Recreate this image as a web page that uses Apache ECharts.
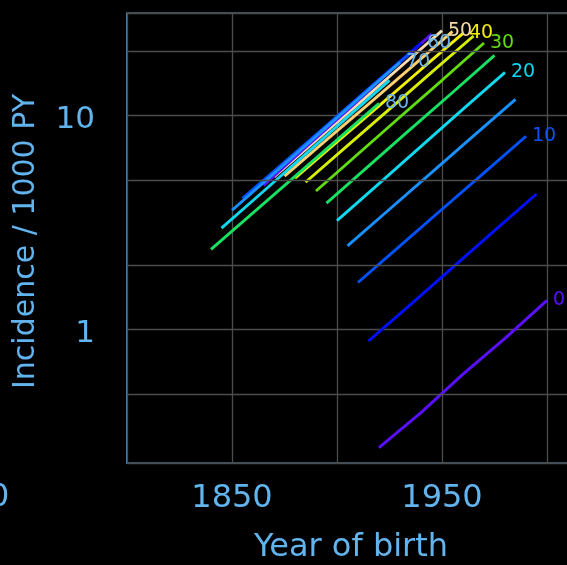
<!DOCTYPE html>
<html>
<head>
<meta charset="utf-8">
<script src="https://cdn.jsdelivr.net/npm/echarts@6/dist/echarts.min.js"></script>
<style>
html,body{margin:0;padding:0;background:#000;}
#c{width:567px;height:565px;}
</style>
</head>
<body>
<div id="c"></div>
<script>
// Ages at diagnosis (one line each), periods of observation, incidence per 1000 PY
var ages = [0, 5, 10, 15, 20, 25, 30, 35, 40, 45, 50, 55, 60, 65, 70, 75, 80];
var periods = [1920, 1940, 1960, 1980, 2000];
var inc0  = [0.281, 0.41, 0.62, 0.91, 1.37];
var inc5  = [0.885, 1.31, 1.95, 2.90, 4.30];
var inc10 = [1.66, 2.46, 3.65, 5.40, 8.0];
var inc15 = [2.46, 3.65, 5.41, 8.03, 11.9];
var inc20 = [3.23, 4.81, 7.17, 10.7, 15.9];
var inc25 = [3.90, 5.80, 8.63, 12.8, 19.1];
var inc30 = [4.44, 6.61, 9.84, 14.6, 21.8];
var inc35 = [4.88, 7.23, 10.7, 15.9, 23.5];
var inc40 = [5.10, 7.53, 11.1, 16.4, 24.2];
var inc45 = [5.21, 7.69, 11.3, 16.7, 24.7];
var inc50 = [5.17, 7.66, 11.3, 16.8, 24.9];
var inc55 = [4.72, 7.10, 10.6, 16.0, 24.0];
var inc60 = [4.46, 6.63, 9.86, 14.7, 21.8];
var inc65 = [4.10, 6.06, 8.97, 13.3, 19.6];
var inc70 = [3.61, 5.37, 7.99, 11.9, 17.7];
var inc75 = [2.98, 4.43, 6.60, 9.82, 14.6];
var inc80 = [2.37, 3.51, 5.20, 7.70, 11.4];
var incidence = [inc0, inc5, inc10, inc15, inc20, inc25, inc30, inc35, inc40, inc45, inc50, inc55, inc60, inc65, inc70, inc75, inc80];
var labelledAges = [0, 10, 20, 30, 40, 50, 60, 70, 80];
var xTickLabels = [1850, 1950];
var yTickLabels = [1, 10];
var extraGrid = [0.5, 2, 5, 20];

var palette = ['#5a10ff','#0010ff','#0052ff','#1890ff','#10d8f0','#18e060','#60dc10','#d8f000','#f2f000','#ffd070','#f8dcb0'];
var labelColors = {0:'#5a10ff',10:'#0a52f5',20:'#10d8f0',30:'#60dc10',40:'#f2f000',50:'#f5d8a8',60:'#6ab4e6',70:'#6ab4e6',80:'#6ab4e6'};
var textColor = '#62b4ee';
var gridColor = '#4d4d4d';
var FONT = 'DejaVu Sans';

var series = ages.map(function(a, i){
  var data = periods.map(function(p, j){ return [p - a, incidence[i][j]]; });
  var s = {
    type: 'line',
    name: String(a),
    data: data,
    showSymbol: false,
    symbol: 'none',
    silent: true,
    animation: false,
    lineStyle: { width: 2.9, color: palette[i % palette.length] },
    itemStyle: { color: palette[i % palette.length] }
  };
  if (labelledAges.indexOf(a) >= 0) {
    s.endLabel = {
      show: true,
      formatter: String(a),
      color: labelColors[a],
      fontFamily: FONT,
      fontSize: 19,
      distance: 6
    };
  }
  return s;
});
series[0].markLine = {
  silent: true,
  symbol: 'none',
  animation: false,
  label: { show: false },
  lineStyle: { color: gridColor, type: 'solid', width: 1.3 },
  data: extraGrid.map(function(v){ return { yAxis: v }; })
};

var chart = echarts.init(document.getElementById('c'));
chart.setOption({
  backgroundColor: '#000',
  animation: false,
  grid: {
    left: 127, top: 13.3, width: 462, height: 450,
    outerBoundsMode: 'none', containLabel: false,
    show: true, borderColor: '#6aa6d6', borderWidth: 1.5, backgroundColor: 'transparent'
  },
  xAxis: {
    type: 'value', min: 1800, max: 2020, interval: 50,
    axisLine: { show: false }, axisTick: { show: false },
    splitLine: { show: true, lineStyle: { color: gridColor, width: 1.3 } },
    axisLabel: {
      color: textColor, fontFamily: FONT, fontSize: 32, margin: 19,
      formatter: function(v){ return xTickLabels.indexOf(v) >= 0 ? String(v) : ''; }
    }
  },
  yAxis: {
    type: 'log', logBase: 10, min: 0.2377, max: 30,
    axisLine: { show: false }, axisTick: { show: false },
    splitLine: { show: true, lineStyle: { color: gridColor, width: 1.3 } },
    axisLabel: {
      color: textColor, fontFamily: FONT, fontSize: 31, margin: 32,
      showMinLabel: false, showMaxLabel: false,
      rich: { t: { color: textColor, fontFamily: FONT, fontSize: 31, padding: [9, 0, 0, 0] } },
      formatter: function(v){
        for (var k = 0; k < yTickLabels.length; k++) {
          if (Math.abs(v - yTickLabels[k]) < 1e-6 * yTickLabels[k]) return '{t|' + yTickLabels[k] + '}';
        }
        return '';
      }
    }
  },
  graphic: [
    { type: 'text', x: 26, y: 241.5, rotation: Math.PI / 2,
      style: { text: 'Incidence / 1000 PY', fill: textColor, font: '30px "DejaVu Sans"', textAlign: 'center', textVerticalAlign: 'middle' } },
    { type: 'text', x: 351, y: 548,
      style: { text: 'Year of birth', fill: textColor, font: '32px "DejaVu Sans"', textAlign: 'center', textVerticalAlign: 'middle' } },
    { type: 'text', x: -11, y: 498,
      style: { text: '0', fill: textColor, font: '32px "DejaVu Sans"', textAlign: 'left', textVerticalAlign: 'middle' } }
  ],
  series: series
});
</script>
</body>
</html>
